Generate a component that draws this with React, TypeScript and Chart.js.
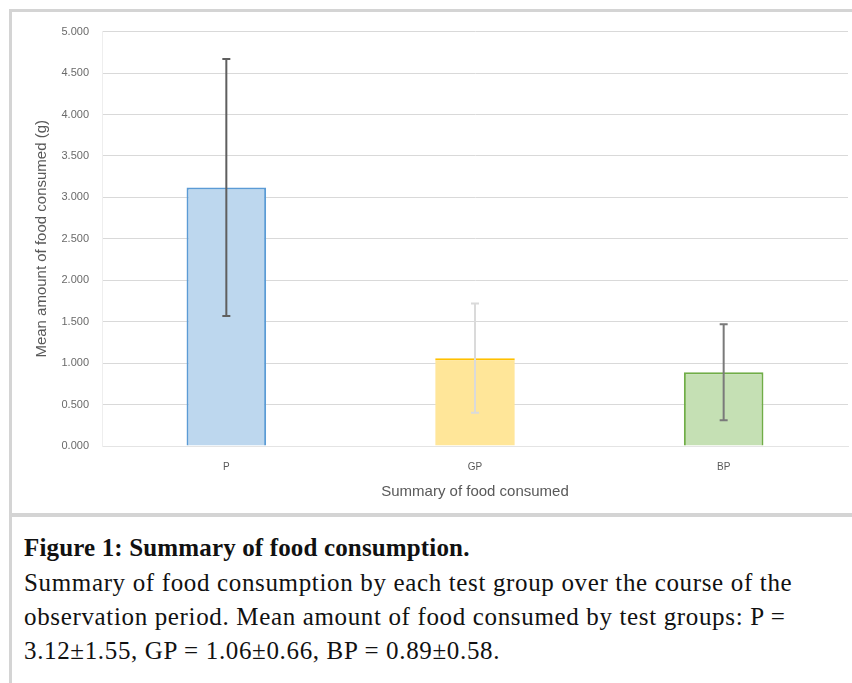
import React, { useEffect, useRef } from "react";
import { Chart, registerables } from "chart.js";

Chart.register(...registerables);

const categories = ["P", "GP", "BP"];
const meanValues = [3.12, 1.06, 0.89];
const errorValues = [1.55, 0.66, 0.58];
const yTicks = [0, 0.5, 1, 1.5, 2, 2.5, 3, 3.5, 4, 4.5, 5];

const fillColors = ["#bdd7ee", "#ffe699", "#c5e0b4"];
const borderColors = ["#5b9bd5", "#ffc000", "#70ad47"];
const errorColors = ["#5f5f5f", "#dadada", "#7a7a7a"];

const errorBarPlugin = {
  id: "errorBars",
  afterDatasetsDraw(chart: any) {
    const ctx = chart.ctx;
    const meta = chart.getDatasetMeta(0);
    const y = chart.scales.y;
    ctx.save();
    meta.data.forEach((bar: any, i: number) => {
      const v = meanValues[i];
      const e = errorValues[i];
      const top = y.getPixelForValue(v + e);
      const bot = y.getPixelForValue(v - e);
      const x = bar.x;
      ctx.strokeStyle = errorColors[i];
      ctx.lineWidth = 2;
      ctx.beginPath();
      ctx.moveTo(x, top);
      ctx.lineTo(x, bot);
      ctx.moveTo(x - 4, top);
      ctx.lineTo(x + 4, top);
      ctx.moveTo(x - 4, bot);
      ctx.lineTo(x + 4, bot);
      ctx.stroke();
    });
    ctx.restore();
  },
};

export default function App() {
  const ref = useRef<HTMLCanvasElement | null>(null);

  useEffect(() => {
    document.body.style.margin = "0";
    if (!ref.current) return;
    const chart = new Chart(ref.current, {
      type: "bar",
      data: {
        labels: categories,
        datasets: [
          {
            data: meanValues,
            backgroundColor: fillColors,
            borderColor: borderColors,
            borderWidth: [
              { top: 2, left: 2, right: 2, bottom: 0 },
              { top: 2, left: 0, right: 0, bottom: 0 },
              { top: 2, left: 2, right: 2, bottom: 0 },
            ] as any,
            borderSkipped: false,
            barPercentage: 0.32,
            categoryPercentage: 1,
          },
        ],
      },
      options: {
        animation: false,
        responsive: false,
        devicePixelRatio: 1,
        layout: { padding: { top: 15, right: 4, left: 0, bottom: 0 } },
        plugins: { legend: { display: false }, tooltip: { enabled: false } },
        scales: {
          x: {
            grid: { display: false, drawTicks: false },
            border: { display: true, color: "#e4e4e4" },
            ticks: {
              padding: 15,
              color: "#595959",
              font: { family: "Liberation Sans", size: 10 },
            },
            title: {
              display: true,
              text: "Summary of food consumed",
              color: "#595959",
              font: { family: "Liberation Sans", size: 15 },
              padding: { top: 0, bottom: 12 },
            },
            afterFit: (s: any) => {
              s.height = 67;
            },
          },
          y: {
            min: 0,
            max: 5,
            afterBuildTicks: (s: any) => {
              s.ticks = yTicks.map((v) => ({ value: v }));
            },
            grid: { color: "#d9d9d9", lineWidth: 1, drawTicks: false },
            border: { display: true, color: "#eeeeee" },
            ticks: {
              padding: 13,
              color: "#6a6a6a",
              font: { family: "Liberation Sans", size: 11 },
              callback: (v: any) => Number(v).toFixed(3),
            },
            title: {
              display: true,
              text: "Mean amount of food consumed (g)",
              color: "#595959",
              font: { family: "Liberation Sans", size: 15 },
              padding: { top: 21, bottom: 0 },
            },
            afterFit: (s: any) => {
              s.width = 90;
            },
          },
        },
      },
      plugins: [errorBarPlugin],
    });
    return () => chart.destroy();
  }, []);

  const lineStyle: React.CSSProperties = {
    position: "absolute",
    left: 24,
    whiteSpace: "nowrap",
    fontFamily: "'Liberation Serif', 'Times New Roman', serif",
    fontSize: 25,
    letterSpacing: "0.65px",
    color: "#111",
    lineHeight: "34px",
  };

  return (
    <div style={{ position: "relative", width: 852, height: 683, background: "#fff", overflow: "hidden" }}>
      <div
        style={{
          position: "absolute",
          left: 9,
          top: 9,
          width: 843,
          height: 508,
          borderTop: "3px solid #d4d4d4",
          borderLeft: "3px solid #d4d4d4",
          borderBottom: "4px solid #d4d4d4",
          boxSizing: "border-box",
        }}
      />
      <canvas
        ref={ref}
        width={840}
        height={501}
        style={{ position: "absolute", left: 12, top: 12, width: 840, height: 501 }}
      />
      <div
        style={{
          position: "absolute",
          left: 9,
          top: 517,
          width: 3,
          height: 166,
          background: "#d4d4d4",
        }}
      />
      <div style={{ ...lineStyle, top: 531, fontWeight: "bold", letterSpacing: "0.15px" }}>
        Figure 1: Summary of food consumption.
      </div>
      <div style={{ ...lineStyle, top: 566 }}>
        Summary of food consumption by each test group over the course of the
      </div>
      <div style={{ ...lineStyle, top: 600 }}>
        observation period. Mean amount of food consumed by test groups: P =
      </div>
      <div style={{ ...lineStyle, top: 634 }}>3.12±1.55, GP = 1.06±0.66, BP = 0.89±0.58.</div>
    </div>
  );
}
